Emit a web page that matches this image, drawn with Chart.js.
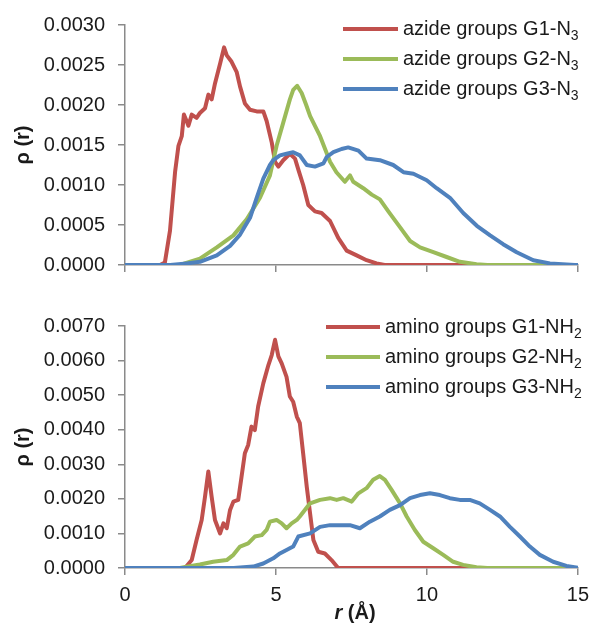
<!DOCTYPE html>
<html>
<head>
<meta charset="utf-8">
<script src="https://cdn.jsdelivr.net/npm/chart.js@4.4.1/dist/chart.umd.min.js"></script>
<style>
  body { margin: 0; background: #fff; }
  canvas { position: absolute; left: 0; }
  #top { top: 0; }
  #bottom { top: 290px; }
</style>
</head>
<body>
<canvas id="top" width="597" height="290"></canvas>
<canvas id="bottom" width="597" height="333"></canvas>
<script>
  const FONT = '"Liberation Sans", Arial, sans-serif';
  const RED = "#c0504d", GREEN = "#9bbb59", BLUE = "#4f81bd";

  // azide groups (top panel), r in Angstrom, rho(r)
  const azideG1R = [0, 1.16, 1.32, 1.49, 1.66, 1.77, 1.88, 1.95, 2.04, 2.10, 2.21, 2.37, 2.48, 2.65, 2.76, 2.87, 2.98, 3.15, 3.28, 3.37, 3.53, 3.70, 3.81, 3.97, 4.14, 4.36, 4.58, 4.69, 4.86, 4.97, 5.08, 5.24, 5.46, 5.63, 5.75, 5.90, 6.07, 6.29, 6.51, 6.79, 7.06, 7.34, 7.67, 8.00, 8.33, 8.60, 15];
  const azideG1Rho = [0, 0, 0.00003, 0.00043, 0.00117, 0.00149, 0.00161, 0.00188, 0.00180, 0.00174, 0.00188, 0.00184, 0.00190, 0.00196, 0.00213, 0.00207, 0.00227, 0.00252, 0.00272, 0.00262, 0.00254, 0.00241, 0.00223, 0.00202, 0.00194, 0.00192, 0.00192, 0.00180, 0.00153, 0.00129, 0.00123, 0.00131, 0.00139, 0.00133, 0.00118, 0.00100, 0.00075, 0.00067, 0.00065, 0.00055, 0.00034, 0.00018, 0.00012, 0.00006, 0.00002, 0, 0];
  const azideG2R = [0, 1.82, 2.48, 3.04, 3.59, 4.03, 4.47, 4.80, 5.02, 5.24, 5.46, 5.57, 5.70, 5.85, 6.00, 6.13, 6.46, 6.79, 7.00, 7.28, 7.45, 7.56, 7.89, 8.17, 8.44, 8.72, 9.11, 9.44, 9.77, 10.21, 10.65, 11.09, 11.64, 12.0, 15];
  const azideG2Rho = [0, 0, 0.00008, 0.00022, 0.00037, 0.00057, 0.00084, 0.00112, 0.00149, 0.00178, 0.00207, 0.00219, 0.00224, 0.00215, 0.00200, 0.00186, 0.00161, 0.00129, 0.00116, 0.00104, 0.00112, 0.00104, 0.00096, 0.00088, 0.00082, 0.00067, 0.00047, 0.00030, 0.00022, 0.00016, 0.00010, 0.00004, 0.00001, 0, 0];
  const azideG3R = [0, 1.50, 2.04, 2.48, 3.04, 3.48, 3.81, 4.14, 4.36, 4.58, 4.80, 4.91, 5.13, 5.35, 5.57, 5.79, 6.02, 6.29, 6.57, 6.68, 6.90, 7.17, 7.39, 7.73, 8.00, 8.44, 8.88, 9.22, 9.55, 9.99, 10.32, 10.76, 11.20, 11.65, 12.09, 12.52, 12.97, 13.52, 14.07, 14.90, 15];
  const azideG3Rho = [0, 0, 0.00002, 0.00004, 0.00012, 0.00024, 0.00038, 0.00059, 0.00084, 0.00108, 0.00125, 0.00131, 0.00137, 0.00139, 0.00141, 0.00137, 0.00125, 0.00123, 0.00127, 0.00135, 0.00141, 0.00145, 0.00147, 0.00143, 0.00133, 0.00131, 0.00125, 0.00116, 0.00114, 0.00106, 0.00096, 0.00084, 0.00065, 0.00049, 0.00037, 0.00026, 0.00016, 0.00006, 0.00002, 0, 0];

  // amino groups (bottom panel)
  const aminoG1R = [0, 1.99, 2.21, 2.37, 2.54, 2.65, 2.76, 2.87, 2.98, 3.15, 3.26, 3.37, 3.48, 3.59, 3.75, 3.86, 3.97, 4.08, 4.19, 4.30, 4.41, 4.58, 4.75, 4.86, 4.97, 5.08, 5.19, 5.35, 5.46, 5.57, 5.69, 5.79, 5.90, 6.02, 6.13, 6.24, 6.40, 6.62, 6.84, 7.06, 15];
  const aminoG1Rho = [0, 0, 0.00023, 0.00081, 0.00139, 0.00206, 0.00279, 0.00206, 0.00139, 0.00100, 0.00129, 0.00115, 0.00168, 0.00192, 0.00197, 0.00264, 0.00332, 0.00356, 0.00409, 0.00399, 0.00467, 0.00534, 0.00587, 0.00616, 0.00660, 0.00612, 0.00592, 0.00553, 0.00496, 0.00481, 0.00438, 0.00419, 0.00332, 0.00235, 0.00158, 0.00081, 0.00047, 0.00042, 0.00023, 0, 0];
  const aminoG2R = [0, 1.82, 2.04, 2.48, 2.92, 3.37, 3.59, 3.81, 4.08, 4.30, 4.53, 4.69, 4.80, 5.02, 5.19, 5.35, 5.52, 5.69, 5.79, 6.13, 6.46, 6.79, 7.01, 7.23, 7.51, 7.73, 8.00, 8.22, 8.44, 8.61, 8.83, 9.11, 9.33, 9.60, 9.88, 10.21, 10.54, 10.87, 11.20, 11.64, 12.0, 15];
  const aminoG2Rho = [0, 0, 0.00004, 0.00010, 0.00018, 0.00023, 0.00038, 0.00062, 0.00071, 0.00091, 0.00095, 0.00110, 0.00134, 0.00139, 0.00129, 0.00115, 0.00129, 0.00139, 0.00149, 0.00187, 0.00197, 0.00202, 0.00197, 0.00202, 0.00192, 0.00216, 0.00231, 0.00255, 0.00266, 0.00255, 0.00226, 0.00187, 0.00149, 0.00110, 0.00076, 0.00057, 0.00038, 0.00018, 0.00009, 0.00002, 0, 0];
  const aminoG3R = [0, 3.6, 4.25, 4.58, 4.91, 5.13, 5.35, 5.57, 5.74, 6.13, 6.46, 6.79, 7.12, 7.45, 7.78, 8.11, 8.44, 8.77, 9.11, 9.44, 9.77, 10.10, 10.43, 10.76, 11.09, 11.42, 11.75, 12.09, 12.42, 12.75, 13.08, 13.41, 13.74, 14.18, 14.62, 15];
  const aminoG3Rho = [0, 0, 0.00004, 0.00013, 0.00028, 0.00042, 0.00052, 0.00062, 0.00091, 0.00100, 0.00119, 0.00124, 0.00124, 0.00124, 0.00115, 0.00134, 0.00149, 0.00168, 0.00182, 0.00202, 0.00211, 0.00216, 0.00211, 0.00202, 0.00197, 0.00197, 0.00187, 0.00168, 0.00149, 0.00119, 0.00091, 0.00062, 0.00038, 0.00018, 0.00006, 0.00001];

  const azideLabels = ["azide groups G1-N", "azide groups G2-N", "azide groups G3-N"];
  const aminoLabels = ["amino groups G1-NH", "amino groups G2-NH", "amino groups G3-NH"];
  const xTicks = [0, 5, 10, 15];

  function pts(r, rho) {
    return r.map((x, i) => ({ x: x, y: rho[i] }));
  }

  // legend drawn as line + text with a subscript, placed inside the plot
  const lineLegend = {
    id: "lineLegend",
    afterDraw(chart, args, opts) {
      const ctx = chart.ctx;
      ctx.save();
      chart.data.datasets.forEach((ds, i) => {
        const y = opts.y + i * opts.gap;
        ctx.strokeStyle = ds.borderColor;
        ctx.lineWidth = 4;
        ctx.lineCap = "butt";
        ctx.beginPath();
        ctx.moveTo(opts.x, y);
        ctx.lineTo(opts.x + opts.len, y);
        ctx.stroke();
        ctx.fillStyle = "#1a1a1a";
        ctx.textAlign = "left";
        ctx.textBaseline = "middle";
        ctx.font = "20px " + FONT;
        const tx = opts.x + opts.len + 5;
        ctx.fillText(ds.label, tx, y);
        const w = ctx.measureText(ds.label).width;
        ctx.font = "14px " + FONT;
        ctx.fillText(ds.sub, tx + w, y + 7);
      });
      if (opts.xTitle) {
        ctx.textBaseline = "middle";
        ctx.fillStyle = "#1a1a1a";
        ctx.font = "italic bold 20px " + FONT;
        const a = "r";
        const wa = ctx.measureText(a).width;
        ctx.font = "bold 20px " + FONT;
        const b = " (Å)";
        const wb = ctx.measureText(b).width;
        let sx = opts.xTitle.x - (wa + wb) / 2;
        ctx.font = "italic bold 20px " + FONT;
        ctx.fillText(a, sx, opts.xTitle.y);
        ctx.font = "bold 20px " + FONT;
        ctx.fillText(b, sx + wa, opts.xTitle.y);
      }
      ctx.restore();
    }
  };

  function makeChart(id, labels, sub, series, yMax, yStep, padTop, xHeight, showX, legendOpts) {
    const colors = [RED, GREEN, BLUE];
    return new Chart(document.getElementById(id), {
      type: "line",
      data: {
        datasets: series.map((s, i) => ({
          label: labels[i],
          sub: sub,
          data: s,
          borderColor: colors[i],
          order: 2 - i // blue on top
        }))
      },
      options: {
        responsive: false,
        animation: false,
        layout: { padding: { top: padTop, right: 19, left: 0, bottom: 0 } },
        elements: {
          point: { radius: 0 },
          line: { tension: 0, borderWidth: 4, borderJoinStyle: "round", borderCapStyle: "round" }
        },
        plugins: {
          legend: { display: false },
          tooltip: { enabled: false },
          lineLegend: legendOpts
        },
        scales: {
          x: {
            type: "linear",
            min: 0,
            max: 15,
            afterBuildTicks: (s) => { s.ticks = xTicks.map(v => ({ value: v })); },
            border: { color: "#8a8a8a", width: 1.5 },
            grid: { drawOnChartArea: false, drawTicks: true, tickLength: 7, color: "#8a8a8a", lineWidth: 1.5 },
            ticks: { display: showX, padding: 8, color: "#1a1a1a", font: { size: 20, family: FONT } },
            afterFit: (s) => { s.height = xHeight; }
          },
          y: {
            min: 0,
            max: yMax,
            border: { color: "#8a8a8a", width: 1.5 },
            grid: { drawOnChartArea: false, drawTicks: true, tickLength: 7, color: "#8a8a8a", lineWidth: 1.5 },
            ticks: {
              stepSize: yStep,
              padding: 13,
              color: "#1a1a1a",
              font: { size: 20, family: FONT },
              callback: (v) => v.toFixed(4)
            },
            title: {
              display: true,
              text: "ρ (r)",
              color: "#1a1a1a",
              font: { size: 20, weight: "bold", family: FONT },
              padding: { top: 11, bottom: 0 }
            },
            afterFit: (s) => { s.width = 125; }
          }
        }
      },
      plugins: [lineLegend]
    });
  }

  makeChart("top", azideLabels, "3",
    [pts(azideG1R, azideG1Rho), pts(azideG2R, azideG2Rho), pts(azideG3R, azideG3Rho)],
    0.003, 0.0005, 24, 22, false,
    { x: 343, y: 29, gap: 30, len: 55 });

  makeChart("bottom", aminoLabels, "2",
    [pts(aminoG1R, aminoG1Rho), pts(aminoG2R, aminoG2Rho), pts(aminoG3R, aminoG3Rho)],
    0.007, 0.001, 36, 55, true,
    { x: 326, y: 37, gap: 30, len: 54, xTitle: { x: 355, y: 323 } });
</script>
</body>
</html>
